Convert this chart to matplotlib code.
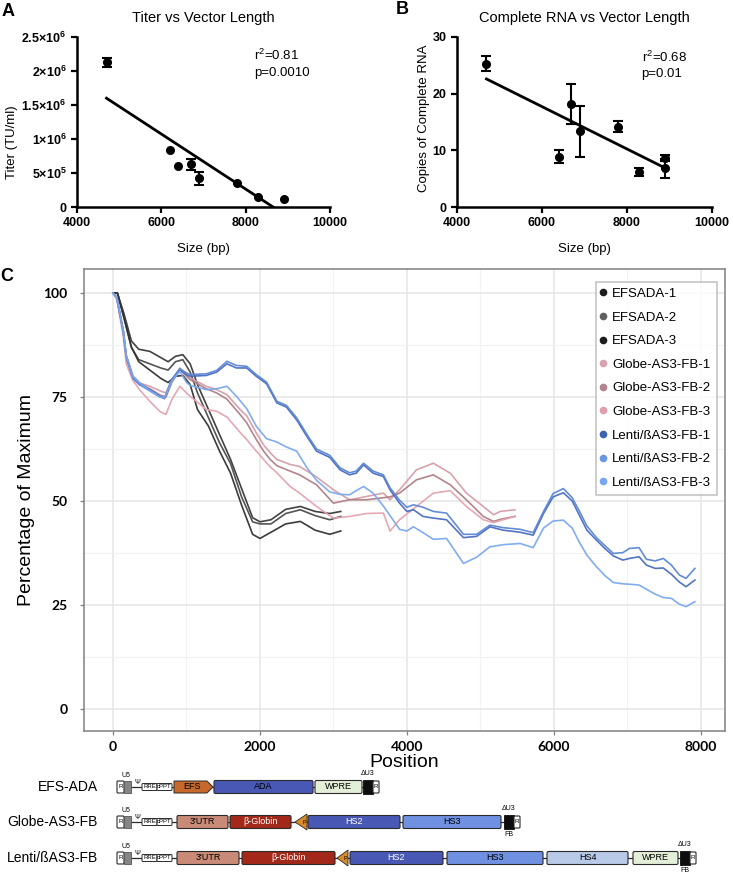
import matplotlib
matplotlib.use("Agg")
import matplotlib.pyplot as plt
from matplotlib.lines import Line2D
from matplotlib.patches import FancyBboxPatch, Polygon, Rectangle
import numpy as np

plt.rcParams['font.family'] = ['Liberation Sans', 'DejaVu Sans']
plt.rcParams['mathtext.fontset'] = 'custom'
plt.rcParams['mathtext.rm'] = 'Liberation Sans'
plt.rcParams['mathtext.bf'] = 'Liberation Sans:bold'
plt.rcParams['mathtext.default'] = 'regular'

# ---- panel A: titer vs vector length
titer_size = [4700, 6200, 6400, 6700, 6900, 7800, 8300, 8900]
titer = [2.13e6, 0.84e6, 0.60e6, 0.63e6, 0.42e6, 0.35e6, 0.15e6, 0.12e6]
titer_err = [0.065e6, 0, 0, 0.08e6, 0.09e6, 0, 0, 0]
titer_fit_x = [4700, 8650]
titer_fit_y = [1.60e6, 0]
titer_ticks = [0, 5e5, 1e6, 1.5e6, 2e6, 2.5e6]
titer_ticklabels = ['0', r'$\mathbf{5{\times}10^5}$', r'$\mathbf{1{\times}10^6}$',
                    r'$\mathbf{1.5{\times}10^6}$', r'$\mathbf{2{\times}10^6}$',
                    r'$\mathbf{2.5{\times}10^6}$']

# ---- panel B: complete RNA vs vector length
rna_size = [4700, 6400, 6700, 6900, 7800, 8300, 8900, 8900]
rna = [25.3, 8.9, 18.2, 13.4, 14.2, 6.1, 8.7, 6.8]
rna_err = [1.35, 1.1, 3.5, 4.5, 0.9, 0.7, 0.5, 1.7]
rna_fit_x = [4700, 8900]
rna_fit_y = [22.6, 6.9]

size_ticks = [4000, 6000, 8000, 10000]

# ---- panel C: coverage along the vector
efs_pos = [0, 60, 150, 250, 350, 500, 650, 750, 850, 950, 1050, 1150, 1300, 1450,
           1600, 1750, 1900, 2000, 2150, 2350, 2550, 2750, 2950, 3100]
efs_1 = [100, 100, 95, 88.5, 86.5, 86, 84.5, 83.5, 84.8, 85.2, 83, 78, 72, 66,
         60, 53, 46, 45, 45.5, 48, 48.7, 47.5, 47, 47.5]
efs_2 = [100, 100, 94, 87, 84, 83, 82, 81.5, 83.5, 84, 81, 76, 70, 64,
         59, 51, 45, 44.5, 44.5, 47, 47.9, 46.5, 45.5, 46.3]
efs_3 = [100, 100, 94, 87, 83.5, 81.5, 79.5, 78.5, 80, 80.2, 78, 72, 68, 62,
         56.7, 49, 42, 41, 42.5, 44.5, 45.1, 43, 42, 42.8]

globe_pos = [0, 50, 140, 180, 270, 360, 500, 640, 720, 800, 910, 1000, 1050, 1270,
             1410, 1550, 1730, 1820, 1950, 2050, 2140, 2230, 2410, 2540, 2770, 3000,
             3220, 3450, 3680, 3770, 3900, 4130, 4360, 4590, 4810, 5040, 5180, 5270, 5470]
globe_1 = [100, 99, 91, 85, 80, 78.4, 77.6, 76.5, 76, 79, 82, 80.4, 79.6, 77.6,
           76.8, 75.6, 72, 70.5, 66.4, 63.5, 61.6, 60, 58.8, 58.3, 55.8, 52.7,
           50.3, 51.1, 51.9, 50.3, 52.7, 57.5, 59.1, 56.7, 51.9, 48.7, 46.7, 47.5, 47.9]
globe_2 = [100, 99, 90.5, 84.5, 79.5, 78, 77, 75.5, 75, 78.5, 81.6, 80, 79.2, 77,
           76, 74.5, 70.8, 68.8, 64.8, 62, 60, 58.5, 57.2, 56.3, 53.9, 49.5,
           50.3, 50.3, 50.8, 51, 51.9, 55.1, 56.3, 53.9, 50.3, 46.3, 45.1, 45.6, 46.3]
globe_3 = [100, 98.5, 89.6, 83, 79, 76.8, 74, 71.5, 70.8, 74.4, 77.6, 76, 75.2, 72,
           71.6, 70.2, 66.5, 64.8, 62, 60, 58.2, 56.8, 53.5, 51.9, 48.7, 45.9,
           46.3, 47, 47.1, 42.8, 45.5, 48.7, 51.9, 52.5, 48.7, 45.5, 44.8, 45.3, 46.3]

lenti_pos = [0, 50, 140, 180, 270, 360, 500, 640, 700, 800, 910, 1000, 1050, 1270,
             1410, 1550, 1680, 1820, 1950, 2090, 2230, 2360, 2500, 2640, 2770, 2950,
             3090, 3220, 3310, 3410, 3540, 3680, 3770, 3900, 4000, 4090, 4220, 4360,
             4540, 4770, 4950, 5130, 5310, 5540, 5720, 5860, 5990, 6130, 6250, 6350,
             6450, 6580, 6700, 6810, 6940, 7030, 7160, 7260, 7380, 7490, 7600, 7710,
             7800, 7920]
lenti_1 = [100, 99, 91, 85, 80, 78.4, 76.8, 75.2, 74.6, 79, 81.6, 80.4, 80, 80.2,
           81, 83, 82, 82, 80, 78.2, 73.6, 72.6, 69.5, 65.5, 62, 60.5,
           57.5, 56.3, 56.7, 58.7, 56.7, 55.9, 52.7, 49.5, 47.5, 47.9, 46.3, 45.9,
           45.5, 41.2, 41.5, 43.8, 43, 42.5, 41.8, 47, 51, 52, 50, 46.5,
           43, 40.6, 38.5, 36.8, 35.8, 36.2, 36.6, 34.6, 33.8, 33.9, 32.4, 30.5,
           29.4, 31]
lenti_2 = [100, 99, 90.5, 84.5, 79.5, 78, 76.5, 75, 74.8, 79.3, 81.8, 80.8, 80.4, 80.6,
           81.4, 83.6, 82.6, 82.4, 80.4, 78.6, 74, 73, 70, 66, 62.5, 61,
           58, 56.8, 57.2, 59.1, 57.2, 56.3, 53.2, 50.2, 48.5, 49.1, 48.5, 47.5,
           47.1, 42, 42, 44.2, 43.6, 43.2, 42.4, 47.5, 51.8, 53, 50.8, 47.5,
           44, 41.2, 39.2, 37.4, 37.6, 38.6, 38.8, 36, 35.6, 36.2, 34.6, 32.2,
           31.4, 33.8]
lenti_3 = [100, 99, 91, 85, 80, 78.4, 76.6, 75, 74.8, 78.8, 81.2, 78.5, 77.8, 76.8,
           77, 77.6, 75.2, 72.2, 68, 65, 64.2, 63, 62, 58, 55, 52.2,
           51.6, 51.5, 52.5, 53.5, 51.9, 48.8, 46.5, 43.2, 42.8, 43.8, 42.4, 40.8,
           41, 35, 36.5, 39, 39.5, 39.8, 38.8, 43.5, 45.2, 45.4, 43.5, 40,
           37, 34.2, 32, 30.4, 30.1, 30, 29.8, 28.8, 27.6, 26.8, 26.6, 25.2,
           24.6, 25.8]

series_names = ['EFSADA-1', 'EFSADA-2', 'EFSADA-3',
                'Globe-AS3-FB-1', 'Globe-AS3-FB-2', 'Globe-AS3-FB-3',
                'Lenti/ßAS3-FB-1', 'Lenti/ßAS3-FB-2', 'Lenti/ßAS3-FB-3']
series_x = [efs_pos] * 3 + [globe_pos] * 3 + [lenti_pos] * 3
series_y = [efs_1, efs_2, efs_3, globe_1, globe_2, globe_3, lenti_1, lenti_2, lenti_3]
line_colors = ['#383838', '#4a4a4a', '#303030', '#d59da8', '#b07d86', '#e4a3b0',
               '#4a6cbf', '#5b86d6', '#7aa8ee']
legend_colors = ['#1e1e1e', '#606060', '#1e1e1e', '#d8a3ad', '#b4848c', '#e29fab',
                 '#3f62b0', '#6a96e3', '#78a6f2']

# ---- vector maps (x in figure pixels)
vector_names = ['EFS-ADA', 'Globe-AS3-FB', 'Lenti/ßAS3-FB']
vector_rows = [787, 822, 858]
vector_parts = [
    [('EFS', 174, 213, '#c8692c', 'black', 'arrow'),
     ('ADA', 214, 313, '#4a58b5', 'black', 'box'),
     ('WPRE', 315, 362, '#e3efd8', 'black', 'box')],
    [("3'UTR", 177, 228, '#c98b78', 'black', 'box'),
     ('β-Globin', 230, 291, '#a3281a', 'white', 'box'),
     ('', 295, 307, '#d98b2b', 'black', 'prom'),
     ('HS2', 308, 400, '#4a58b5', 'white', 'box'),
     ('HS3', 403, 501, '#7090e2', 'black', 'box')],
    [("3'UTR", 177, 239, '#c98b78', 'black', 'box'),
     ('β-Globin', 242, 335, '#a3281a', 'white', 'box'),
     ('', 337, 348, '#d98b2b', 'black', 'prom'),
     ('HS2', 350, 443, '#4a58b5', 'white', 'box'),
     ('HS3', 447, 543, '#7090e2', 'black', 'box'),
     ('HS4', 547, 628, '#b9c9e8', 'black', 'box'),
     ('WPRE', 633, 678, '#e3efd8', 'black', 'box')],
]
ltr_3_start = [363, 504, 680]


def style_prism(ax):
    for side in ['top', 'right']:
        ax.spines[side].set_visible(False)
    for side in ['left', 'bottom']:
        ax.spines[side].set_linewidth(1.8)
    ax.tick_params(direction='out', length=4, width=1.6, labelsize=9)
    for lab in ax.get_xticklabels() + ax.get_yticklabels():
        lab.set_fontweight('bold')


def scatter_panel(ax, xs, ys, err, fit_x, fit_y):
    xs = np.array(xs)
    ys = np.array(ys)
    err = np.array(err)
    ax.plot(fit_x, fit_y, color='black', lw=2, zorder=2)
    has_err = err > 0
    ax.errorbar(xs[has_err], ys[has_err], yerr=err[has_err], fmt='none', ecolor='black',
                elinewidth=1.5, capsize=3.5, capthick=1.5, zorder=3)
    ax.plot(xs, ys, 'o', color='black', ms=5.5, zorder=4)


fig = plt.figure(figsize=(7.33, 8.74), dpi=100)
W, H = 733.0, 874.0

axA = fig.add_axes([77 / W, 1 - 207 / H, 253 / W, 170 / H])
scatter_panel(axA, titer_size, titer, titer_err, titer_fit_x, titer_fit_y)
axA.set_xlim(4000, 10000)
axA.set_ylim(0, 2.5e6)
axA.set_xticks(size_ticks)
axA.set_yticks(titer_ticks)
axA.set_yticklabels(titer_ticklabels)
style_prism(axA)
axA.set_title('Titer vs Vector Length', fontsize=10.5, pad=11)
axA.set_xlabel('Size (bp)', fontsize=9.5)
axA.set_ylabel('Titer (TU/ml)', fontsize=9.5)
axA.yaxis.set_label_coords(-0.232, 0.38)
axA.xaxis.set_label_coords(0.5, -0.21)
axA.text(0.70, 0.89, 'r$^2$=0.81', transform=axA.transAxes, fontsize=9.5, va='center')
axA.text(0.70, 0.79, 'p=0.0010', transform=axA.transAxes, fontsize=9.5, va='center')

axB = fig.add_axes([456.7 / W, 1 - 207 / H, 255 / W, 170 / H])
scatter_panel(axB, rna_size, rna, rna_err, rna_fit_x, rna_fit_y)
axB.set_xlim(4000, 10000)
axB.set_ylim(0, 30)
axB.set_xticks(size_ticks)
axB.set_yticks([0, 10, 20, 30])
style_prism(axB)
axB.set_title('Complete RNA vs Vector Length', fontsize=10.5, pad=11)
axB.set_xlabel('Size (bp)', fontsize=9.5)
axB.set_ylabel('Copies of Complete RNA', fontsize=9.5)
axB.yaxis.set_label_coords(-0.105, 0.52)
axB.xaxis.set_label_coords(0.5, -0.21)
axB.text(0.725, 0.88, 'r$^2$=0.68', transform=axB.transAxes, fontsize=9.5, va='center')
axB.text(0.725, 0.785, 'p=0.01', transform=axB.transAxes, fontsize=9.5, va='center')

axC = fig.add_axes([84 / W, 1 - 731 / H, 641 / W, 462 / H])
for xs, ys, col in zip(series_x, series_y, line_colors):
    axC.plot(xs, ys, color=col, lw=1.2, alpha=0.95, solid_joinstyle='round')
axC.set_xlim(-395, 8330)
axC.set_ylim(-5.3, 105.8)
axC.set_xticks([0, 2000, 4000, 6000, 8000])
axC.set_yticks([0, 25, 50, 75, 100])
axC.set_xticks([1000, 3000, 5000, 7000], minor=True)
axC.set_yticks([12.5, 37.5, 62.5, 87.5], minor=True)
axC.grid(which='major', color='#e6e6e6', lw=1.1)
axC.grid(which='minor', color='#f2f2f2', lw=0.8)
axC.set_axisbelow(True)
for sp in axC.spines.values():
    sp.set_color('#808080')
    sp.set_linewidth(1.1)
axC.tick_params(which='major', direction='out', length=3, width=0.9, color='#808080',
                labelsize=10)
axC.tick_params(axis='y', which='major', pad=9)
axC.tick_params(axis='x', which='major', pad=4)
axC.tick_params(which='minor', length=0)
for lab in axC.get_xticklabels() + axC.get_yticklabels():
    lab.set_fontweight('bold')
    lab.set_family(['Lato', 'DejaVu Sans'])
axC.set_xlabel('Position', fontsize=14, labelpad=1)
axC.set_ylabel('Percentage of Maximum', fontsize=14, labelpad=6)

handles = [Line2D([], [], marker='o', ls='none', ms=4.5, color=c) for c in legend_colors]
leg = axC.legend(handles, series_names, loc='upper right', bbox_to_anchor=(0.9875, 0.972),
                 fontsize=9.5, frameon=True, fancybox=False, edgecolor='#b0b0b0',
                 labelspacing=0.86, handlelength=0.15, handletextpad=0.6, borderpad=0.45,
                 borderaxespad=0)
leg.get_frame().set_linewidth(1.1)

# panel letters
fig.text(2 / W, 1 - 11 / H, 'A', fontsize=13, fontweight='bold', va='center')
fig.text(396 / W, 1 - 10 / H, 'B', fontsize=13, fontweight='bold', va='center')
fig.text(0 / W, 1 - 277 / H, 'C', fontsize=13, fontweight='bold', va='center')

# ---- vector maps
axD = fig.add_axes([0, 0, 1, 110 / H])
axD.set_xlim(0, W)
axD.set_ylim(H, H - 110)
axD.axis('off')


def rbox(x0, x1, yc, h, fc, ec='#2a2a2a', lw=0.8, r=1.5):
    axD.add_patch(FancyBboxPatch((x0, yc - h / 2), x1 - x0, h,
                                 boxstyle='round,pad=0,rounding_size=%g' % r,
                                 fc=fc, ec=ec, lw=lw, zorder=3))


for name, yc, parts, l3 in zip(vector_names, vector_rows, vector_parts, ltr_3_start):
    axD.text(98, yc, name, fontsize=10, ha='right', va='center')
    axD.plot([131, l3], [yc, yc], color='#2a2a2a', lw=0.9, zorder=1)
    # 5' LTR
    rbox(117, 124, yc, 12, 'white', r=1)
    axD.text(120.5, yc, 'R', fontsize=4.5, ha='center', va='center', zorder=4)
    axD.add_patch(Rectangle((124, yc - 6), 7, 12, fc='#858585', ec='#555555', lw=0.6, zorder=3))
    axD.text(126, yc - 11, 'U5', fontsize=5, ha='center', va='center')
    axD.text(137, yc - 4, 'Ψ', fontsize=5, ha='center', va='center')
    rbox(142, 157, yc, 7, 'white', lw=0.7, r=1)
    axD.text(149.5, yc, 'RRE', fontsize=4.3, ha='center', va='center', zorder=4)
    rbox(157, 172, yc, 7, 'white', lw=0.7, r=1)
    axD.text(164.5, yc, 'cPPT', fontsize=4.3, ha='center', va='center', zorder=4)
    for label, x0, x1, fc, tc, kind in parts:
        if kind == 'arrow':
            axD.add_patch(Polygon([(x0, yc - 6), (x1 - 6, yc - 6), (x1, yc), (x1 - 6, yc + 6),
                                   (x0, yc + 6)], closed=True, fc=fc, ec='#2a2a2a', lw=0.7,
                                  zorder=3))
            axD.text((x0 + x1) / 2 - 2, yc, label, fontsize=6.5, color=tc, ha='center',
                     va='center', zorder=4)
        elif kind == 'prom':
            axD.add_patch(Polygon([(x1, yc - 8), (x1, yc + 8), (x0, yc)], closed=True,
                                  fc=fc, ec='#2a2a2a', lw=0.6, zorder=3))
            axD.text(x1 - 3, yc + 1, 'P', fontsize=4, ha='center', va='center', zorder=4)
        else:
            rbox(x0, x1, yc, 13, fc)
            axD.text((x0 + x1) / 2, yc, label, fontsize=6.5, color=tc, ha='center',
                     va='center', zorder=4)
    # 3' LTR
    axD.add_patch(Rectangle((l3, yc - 7), 10, 14, fc='#0d0d0d', ec='#0d0d0d', lw=0.6, zorder=3))
    rbox(l3 + 10, l3 + 16, yc, 12, 'white', r=1)
    axD.text(l3 + 13, yc, 'R', fontsize=4.5, ha='center', va='center', zorder=4)
    axD.text(l3 + 5, yc - 13, 'ΔU3', fontsize=5, ha='center', va='center')
    if name != 'EFS-ADA':
        axD.text(l3 + 5, yc + 13, 'FB', fontsize=5, ha='center', va='center')

fig.savefig('out.png', dpi=100)
